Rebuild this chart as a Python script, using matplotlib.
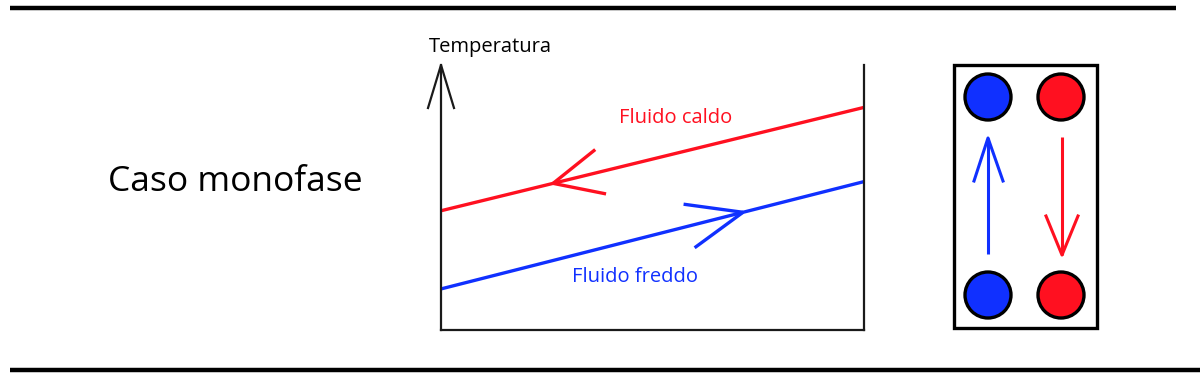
import numpy as np
import matplotlib
matplotlib.use("Agg")
import matplotlib.pyplot as plt
from matplotlib.patches import Circle, Rectangle

plt.rcParams['font.family'] = ['Open Sans', 'DejaVu Sans']

# temperature profiles along the exchanger (normalised length 0..1, temp 0..1)
position = [0.0, 1.0]
t_hot = [0.45, 0.84]
t_cold = [0.155, 0.56]
# where the flow direction chevrons sit along each line
hot_arrow_pos = 0.265
cold_arrow_pos = 0.714

title = "Caso monofase"
ylabel = "Temperatura"
hot_label = "Fluido caldo"
cold_label = "Fluido freddo"

RED = "#ff1020"
BLUE = "#1030ff"
DARK = "#1a1a1a"
W, H = 1200, 380


def px(x, y):
    # reference pixel (y down) -> figure fraction
    return x / W, 1 - y / H


def chevron(ax, x0, xs, ys, direction, length, half_angle, color, lw):
    """Open arrowhead on a straight data line at x0, pointing along direction (+1/-1)."""
    y0 = np.interp(x0, xs, ys)
    p0 = ax.transData.transform((x0, y0))
    p1 = ax.transData.transform((xs[1], ys[1]))
    p_start = ax.transData.transform((xs[0], ys[0]))
    d = (p1 - p_start) / np.linalg.norm(p1 - p_start) * direction
    back = np.arctan2(-d[1], -d[0])
    inv = ax.transData.inverted()
    for s in (-1, 1):
        a = back + s * np.radians(half_angle)
        tip = p0 + length * np.array([np.cos(a), np.sin(a)])
        pts = inv.transform([p0, tip])
        ax.plot(pts[:, 0], pts[:, 1], color=color, lw=lw, solid_capstyle='butt', clip_on=False)


fig = plt.figure(figsize=(12, 3.8), dpi=100)
bg = fig.add_axes([0, 0, 1, 1])
bg.set_xlim(0, W)
bg.set_ylim(H, 0)
bg.axis('off')

# top / bottom rules
bg.plot([10, 1176], [8, 8], color='black', lw=3.2, solid_capstyle='butt')
bg.plot([10, 1200], [370, 370], color='black', lw=3.2, solid_capstyle='butt')

bg.text(235, 182, title, fontsize=25.5, ha='center', va='center')

# temperature chart
x0, y0 = px(441, 330)
x1, y1 = px(864, 65)
ax = fig.add_axes([x0, y0, x1 - x0, y1 - y0])
ax.set_facecolor('none')
ax.set_xlim(0, 1)
ax.set_ylim(0, 1)
ax.set_xticks([])
ax.set_yticks([])
ax.spines['top'].set_visible(False)
for s in ('left', 'right', 'bottom'):
    ax.spines[s].set_color(DARK)
    ax.spines[s].set_linewidth(1.6)

ax.plot(position, t_hot, color=RED, lw=2.4, solid_capstyle='butt')
ax.plot(position, t_cold, color=BLUE, lw=2.4, solid_capstyle='butt')
fig.canvas.draw()
chevron(ax, hot_arrow_pos, position, t_hot, -1, 54, 25, RED, 2.4)
chevron(ax, cold_arrow_pos, position, t_cold, 1, 60, 22, BLUE, 2.4)

# y-axis arrowhead
bg.plot([428, 441, 454], [108, 65, 108], color=DARK, lw=1.6, solid_joinstyle='miter')

bg.text(490, 47, ylabel, fontsize=14.5, ha='center', va='center')
bg.text(676, 118, hot_label, fontsize=14.5, color=RED, ha='center', va='center')
bg.text(635, 277, cold_label, fontsize=14.5, color=BLUE, ha='center', va='center')

# plate exchanger sketch
bg.add_patch(Rectangle((954, 65), 143, 263, fill=False, ec='black', lw=2.4))
for cx, cy, c in [(988, 97, BLUE), (1061, 97, RED), (988, 295, BLUE), (1061, 295, RED)]:
    bg.add_patch(Circle((cx, cy), 23, fc=c, ec='black', lw=2.4))

bg.plot([988, 988], [254, 138], color=BLUE, lw=2.2, solid_capstyle='butt')
bg.plot([974, 988, 1003], [181, 138, 181], color=BLUE, lw=2.2)
bg.plot([1062, 1062], [137, 255], color=RED, lw=2.2, solid_capstyle='butt')
bg.plot([1046, 1062, 1078], [216, 255, 216], color=RED, lw=2.2)

fig.savefig("out.png", dpi=100)
